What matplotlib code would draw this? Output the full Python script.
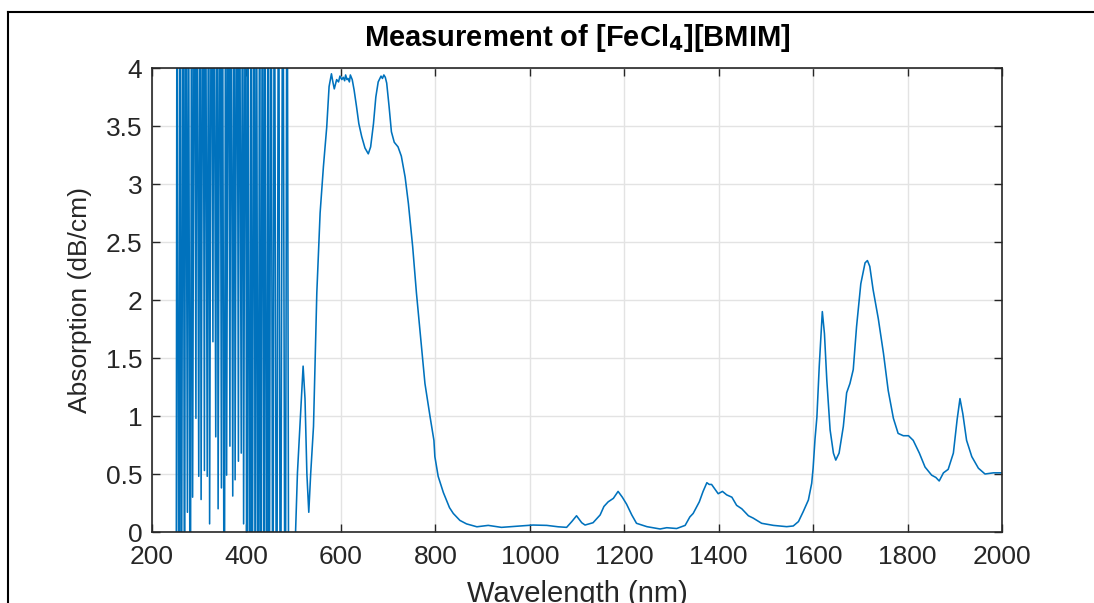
import matplotlib
matplotlib.use("Agg", force=True)
import matplotlib.pyplot as plt
from matplotlib.lines import Line2D
import numpy as np

plt.rcParams['font.family'] = ['Liberation Sans', 'DejaVu Sans']

# noisy detector region (values far outside the axis range are clipped)
noise_nm = [251, 253, 257, 260, 262, 266, 269, 271, 275, 277,
            281, 284, 286, 290, 293, 295, 299, 302, 304, 308,
            311, 313, 317, 320, 322, 326, 329, 331, 335, 338,
            340, 344, 347, 349, 353, 356, 358, 362, 365, 367,
            371, 374, 376, 380, 383, 385, 389, 392, 394, 398,
            401, 403, 407, 410, 412, 416, 419, 421, 425, 428,
            430, 434, 437, 439, 443, 446, 448, 452, 456, 459,
            464, 468, 472, 477, 482, 486, 490]
noise_val = [-2, 6, -2, 6, -2, 6, -2, 6, 0.17, 6,
             -2, 6, 0.3, 6, 0.98, 6, 0.48, 6, 0.28, 6,
             0.53, 6, 0.48, 6, 0.07, 6, 1.64, 6, 0.82, 6,
             0.2, 6, 0.38, 6, -2, 6, 0.49, 6, 0.74, 6,
             0.31, 6, 0.45, 6, 0.61, 6, 0.68, 6, 0.07, 6,
             -2, 6, -2, 6, -2, 6, -2, 6, -2, 6,
             -2, 6, -2, 6, -2, 6, -2, 6, -2, 6,
             -2, 6, -2, 6, -2, 6, -2]

# measured spectrum
spec_nm = [504, 508, 517, 520, 524, 528, 532, 536, 542, 549,
           556, 563, 570, 575, 580, 583, 586, 591, 595, 598,
           602, 605, 608, 610, 613, 615, 618, 620, 622, 624,
           628, 633, 638, 644, 651, 658, 663, 669, 674, 679,
           685, 688, 691, 694, 697, 702, 707, 713, 721, 728,
           736, 743, 752, 760, 770, 778, 789, 797, 799, 806,
           817, 824, 830, 838, 852, 866, 888, 912, 940, 972,
           1007, 1036, 1060, 1078, 1089, 1099, 1110, 1117, 1134, 1149,
           1157, 1166, 1177, 1187, 1196, 1205, 1216, 1226, 1248, 1276,
           1290, 1311, 1329, 1339, 1346, 1359, 1367, 1375, 1380, 1385,
           1392, 1399, 1408, 1417, 1428, 1438, 1449, 1463, 1473, 1491,
           1516, 1544, 1558, 1569, 1579, 1590, 1597, 1600, 1604, 1608,
           1613, 1619.5, 1624, 1629, 1636, 1643, 1648, 1655, 1664, 1671,
           1678, 1685, 1692, 1701, 1710, 1715, 1720, 1727, 1738, 1749,
           1759, 1770, 1780, 1791, 1802, 1812, 1825, 1837, 1851, 1860,
           1867, 1876, 1886, 1897, 1905, 1911, 1917, 1925, 1936, 1950,
           1964, 1982, 2000]
spec_val = [0.0, 0.51, 1.20, 1.43, 1.15, 0.5, 0.17, 0.5, 0.91, 2.06,
            2.75, 3.15, 3.49, 3.84, 3.95, 3.88, 3.82, 3.90, 3.88, 3.93,
            3.90, 3.92, 3.89, 3.94, 3.90, 3.91, 3.88, 3.94, 3.92, 3.90,
            3.81, 3.67, 3.52, 3.41, 3.31, 3.26, 3.32, 3.52, 3.75, 3.88,
            3.93, 3.91, 3.94, 3.92, 3.87, 3.67, 3.45, 3.36, 3.32, 3.24,
            3.06, 2.83, 2.46, 2.06, 1.63, 1.28, 0.99, 0.79, 0.65, 0.48,
            0.34, 0.27, 0.21, 0.16, 0.10, 0.07, 0.045, 0.057, 0.04, 0.05,
            0.06, 0.057, 0.045, 0.04, 0.09, 0.14, 0.08, 0.06, 0.08, 0.147,
            0.22, 0.26, 0.29, 0.35, 0.30, 0.24, 0.147, 0.075, 0.046, 0.026,
            0.037, 0.03, 0.057, 0.13, 0.16, 0.26, 0.35, 0.425, 0.41, 0.41,
            0.37, 0.33, 0.35, 0.32, 0.30, 0.23, 0.20, 0.14, 0.12, 0.075,
            0.057, 0.046, 0.052, 0.09, 0.175, 0.276, 0.42, 0.55, 0.8, 0.99,
            1.43, 1.90, 1.71, 1.31, 0.88, 0.68, 0.62, 0.68, 0.91, 1.20,
            1.28, 1.40, 1.77, 2.14, 2.32, 2.34, 2.29, 2.09, 1.84, 1.54,
            1.22, 0.98, 0.85, 0.83, 0.83, 0.79, 0.68, 0.56, 0.49, 0.47,
            0.44, 0.51, 0.54, 0.68, 0.97, 1.15, 1.02, 0.79, 0.65, 0.55,
            0.50, 0.51, 0.51]

x_ticks = [200, 400, 600, 800, 1000, 1200, 1400, 1600, 1800, 2000]
y_ticks = [0, 0.5, 1, 1.5, 2, 2.5, 3, 3.5, 4]
y_tick_labels = ['0', '0.5', '1', '1.5', '2', '2.5', '3', '3.5', '4']

wavelength = np.array(noise_nm + spec_nm, dtype=float)
absorption = np.array(noise_val + spec_val, dtype=float)

fig = plt.figure(figsize=(10.94, 6.03), dpi=100)
ax = fig.add_axes([152 / 1094, 1 - 532 / 603, 850 / 1094, 464 / 603])

ax.plot(wavelength, absorption, color='#0072BD', lw=1.15)

ax.set_xlim(200, 2000)
ax.set_ylim(0, 4)
ax.set_xticks(x_ticks)
ax.set_yticks(y_ticks)
ax.set_yticklabels(y_tick_labels)
ax.grid(True, color='#e3e3e3', lw=1.0)
ax.set_axisbelow(True)

ax.tick_params(direction='in', length=6, width=1.0, colors='#262626',
               labelsize=19, top=True, right=True)
ax.tick_params(axis='x', pad=9)
ax.tick_params(axis='y', pad=7)
for s in ax.spines.values():
    s.set_color('#262626')
    s.set_linewidth(1.2)

ax.set_ylabel('Absorption (dB/cm)', fontsize=19, color='#262626', va='center')
ax.yaxis.set_label_coords(-0.085, 0.5)
ax.set_xlabel('Wavelength (nm)', fontsize=21, color='#262626', va='center')
ax.xaxis.set_label_coords(0.5, -0.134)
ax.set_title('Measurement of [FeCl$_\\mathbf{4}$][BMIM]', fontsize=21,
             fontweight='bold', y=1.03)

# outer frame of the exported figure
fy = 1 - 12 / 603
fx = 7.5 / 1094
fig.add_artist(Line2D([fx, fx], [0, fy], transform=fig.transFigure, color='black', lw=1.5))
fig.add_artist(Line2D([fx, 1], [fy, fy], transform=fig.transFigure, color='black', lw=1.5))

fig.savefig('out.png', dpi=100)
plt.close(fig)
